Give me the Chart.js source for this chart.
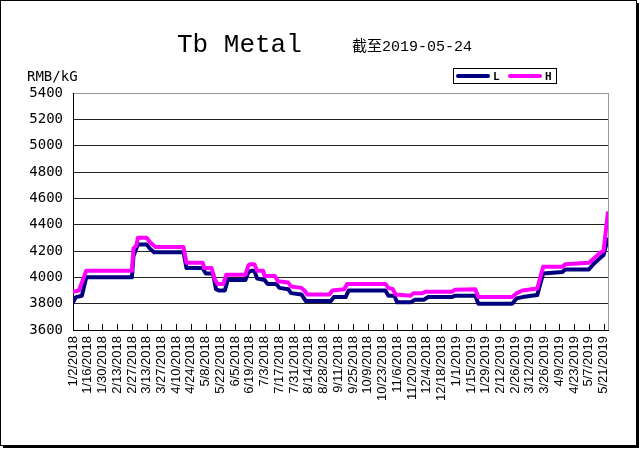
<!DOCTYPE html>
<html lang="zh">
<head>
<meta charset="UTF-8">
<title>Tb Metal</title>
<script src="https://cdn.jsdelivr.net/npm/chart.js"></script>
<style>
  body { margin: 0; background: #fff; }
  #wrap { width: 640px; height: 449px; }
</style>
</head>
<body>
<div id="wrap"><canvas id="myChart" width="640" height="449"></canvas></div>
<script>
// trading-day index (0 = 1/2/2018, 10 days per label) where the price changes
const hDays = [0, 4, 6, 9, 40, 41, 43, 44, 50, 52, 55, 56, 75, 77, 88, 89, 94, 96, 98, 102, 104, 117, 119, 120, 123, 125, 129, 130, 137, 139, 146, 148, 155, 157, 159, 174, 176, 184, 186, 212, 214, 217, 219, 229, 231, 237, 239, 257, 259, 273, 275, 298, 301, 305, 311, 315, 319, 332, 334, 350, 353, 356, 358, 360, 363];
const hVals = [3890, 3900, 3960, 4050, 4050, 4220, 4240, 4300, 4300, 4270, 4240, 4230, 4230, 4110, 4110, 4070, 4070, 3990, 3950, 3950, 4020, 4020, 4090, 4100, 4100, 4050, 4050, 4010, 4010, 3970, 3960, 3930, 3920, 3900, 3870, 3870, 3900, 3910, 3950, 3950, 3920, 3910, 3870, 3860, 3880, 3880, 3890, 3890, 3905, 3910, 3850, 3850, 3880, 3900, 3910, 3915, 4080, 4080, 4100, 4110, 4140, 4170, 4190, 4200, 4500];

const lDays = [0, 2, 6, 9, 40, 41, 44, 50, 52, 55, 75, 77, 88, 90, 95, 97, 99, 103, 105, 117, 119, 121, 123, 125, 130, 132, 138, 140, 146, 148, 155, 158, 175, 177, 185, 187, 212, 214, 218, 220, 229, 232, 238, 241, 257, 259, 273, 275, 298, 301, 305, 311, 315, 319, 332, 334, 350, 353, 358, 360, 363];
const lVals = [3810, 3850, 3860, 4000, 4000, 4160, 4250, 4250, 4220, 4190, 4190, 4070, 4070, 4030, 4030, 3910, 3900, 3900, 3980, 3980, 4040, 4050, 4050, 3990, 3980, 3950, 3950, 3920, 3910, 3880, 3870, 3820, 3820, 3850, 3850, 3900, 3900, 3860, 3860, 3810, 3810, 3830, 3830, 3850, 3850, 3860, 3860, 3800, 3800, 3840, 3850, 3860, 3865, 4030, 4040, 4060, 4060, 4100, 4150, 4170, 4300];

const tickLabels = ['1/2/2018', '1/16/2018', '1/30/2018', '2/13/2018', '2/27/2018', '3/13/2018', '3/27/2018', '4/10/2018', '4/24/2018', '5/8/2018', '5/22/2018', '6/5/2018', '6/19/2018', '7/3/2018', '7/17/2018', '7/31/2018', '8/14/2018', '8/28/2018', '9/11/2018', '9/25/2018', '10/9/2018', '10/23/2018', '11/6/2018', '11/20/2018', '12/4/2018', '12/18/2018', '1/1/2019', '1/15/2019', '1/29/2019', '2/12/2019', '2/26/2019', '3/12/2019', '3/26/2019', '4/9/2019', '4/23/2019', '5/7/2019', '5/21/2019'];

const mono = "'DejaVu Sans Mono', 'Noto Sans CJK SC', monospace";

// titles, legend box, frame and the small inside ticks on the x axis
const decor = {
  id: 'decor',
  beforeDatasetsDraw(chart) {
    const ctx = chart.ctx;
    const area = chart.chartArea;
    const xs = chart.scales.x;
    ctx.save();
    ctx.strokeStyle = '#000';
    ctx.lineWidth = 1;
    xs.ticks.forEach(t => {
      const x = Math.round(xs.getPixelForValue(t.value)) + 0.5;
      ctx.beginPath();
      ctx.moveTo(x, area.bottom);
      ctx.lineTo(x, area.bottom - 6);
      ctx.stroke();
    });
    ctx.strokeStyle = '#999';
    ctx.beginPath();
    ctx.moveTo(area.right + 0.5, area.top);
    ctx.lineTo(area.right + 0.5, area.bottom);
    ctx.stroke();
    ctx.restore();
  },
  afterDraw(chart) {
    const ctx = chart.ctx;
    ctx.save();
    ctx.fillStyle = '#000';
    ctx.textBaseline = 'alphabetic';
    ctx.font = "26px 'Liberation Mono', monospace";
    ctx.fillText('Tb Metal', 177, 52);
    ctx.font = "15px 'Liberation Mono', 'Noto Sans CJK SC', monospace";
    ctx.fillText('截至2019-05-24', 352, 51);
    ctx.font = "14px " + mono;
    ctx.fillText('RMB/kG', 27, 81);

    // legend
    ctx.strokeStyle = '#000';
    ctx.lineWidth = 1;
    ctx.strokeRect(453.5, 68.5, 103, 15);
    const order = [1, 0];
    let x = 458;
    ctx.font = "bold 11px " + mono;
    order.forEach(i => {
      const ds = chart.data.datasets[i];
      ctx.strokeStyle = ds.borderColor;
      ctx.lineWidth = 4;
      ctx.lineCap = 'round';
      ctx.beginPath();
      ctx.moveTo(x, 76);
      ctx.lineTo(x + 30, 76);
      ctx.stroke();
      ctx.fillStyle = '#000';
      ctx.fillText(ds.label, x + 35, 80);
      x += 52;
    });

    // outer frame
    ctx.lineCap = 'butt';
    ctx.strokeStyle = '#000';
    ctx.lineWidth = 1;
    ctx.strokeRect(0.5, 0.5, 636, 445);
    ctx.lineWidth = 2;
    ctx.beginPath();
    ctx.moveTo(638, 3);
    ctx.lineTo(638, 447);
    ctx.lineTo(3, 447);
    ctx.stroke();
    ctx.restore();
  }
};

function toPoints(days, vals) {
  return days.map((d, i) => ({ x: d, y: vals[i] }));
}

const config = {
  type: 'line',
  data: {
    datasets: [{
      label: 'H',
      data: toPoints(hDays, hVals),
      borderColor: '#FF00FF',
      backgroundColor: '#FF00FF',
      borderWidth: 4,
      pointRadius: 0,
      tension: 0,
      borderJoinStyle: 'round'
    }, {
      label: 'L',
      data: toPoints(lDays, lVals),
      borderColor: '#000080',
      backgroundColor: '#000080',
      borderWidth: 4,
      pointRadius: 0,
      tension: 0,
      borderJoinStyle: 'round'
    }]
  },
  options: {
    responsive: false,
    animation: false,
    layout: { padding: { top: 93, right: 32, left: 0, bottom: 0 } },
    plugins: {
      legend: { display: false },
      title: { display: false },
      tooltip: { enabled: false }
    },
    scales: {
      x: {
        type: 'linear',
        min: 0,
        max: 363,
        afterBuildTicks(scale) {
          scale.ticks = tickLabels.map((_, k) => ({ value: k * 10 }));
        },
        afterFit(scale) { scale.height = 119; },
        ticks: {
          autoSkip: false,
          minRotation: 90,
          maxRotation: 90,
          padding: 6,
          color: '#000',
          font: { family: "'Liberation Sans', Arial, sans-serif", size: 13 },
          callback: (v, idx) => tickLabels[idx]
        },
        grid: { display: false, drawTicks: false },
        border: { display: true, color: '#000', width: 1 }
      },
      y: {
        min: 3600,
        max: 5400,
        afterFit(scale) { scale.width = 73; },
        ticks: {
          stepSize: 200,
          padding: 10,
          color: '#000',
          font: { family: mono, size: 14 },
          callback: v => String(v)
        },
        grid: {
          drawTicks: false,
          color: ctx => ctx.tick && ctx.tick.value === 5400 ? '#999' : '#222',
          lineWidth: 1
        },
        border: { display: true, color: '#000', width: 1 }
      }
    }
  },
  plugins: [decor]
};

new Chart(document.getElementById('myChart'), config);
</script>
</body>
</html>
